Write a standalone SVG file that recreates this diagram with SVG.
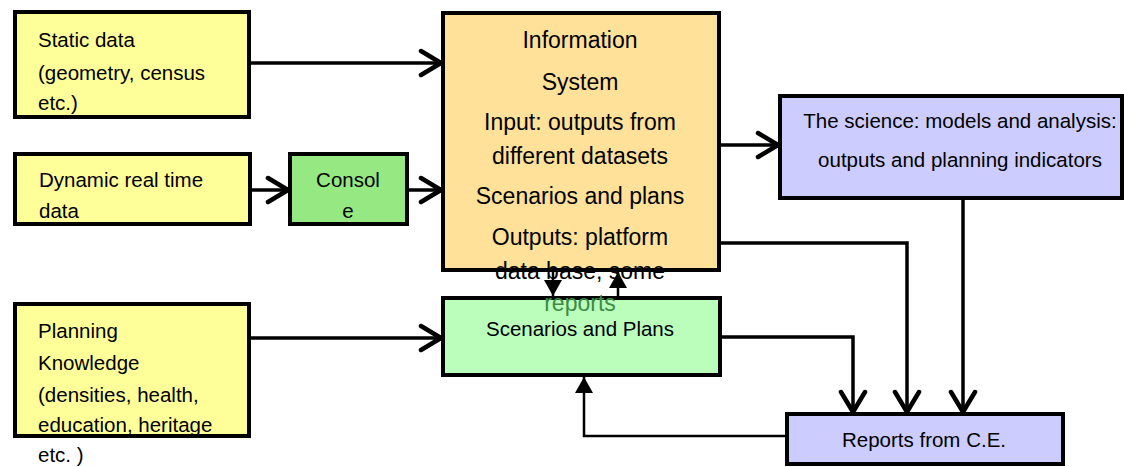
<svg xmlns="http://www.w3.org/2000/svg" width="1124" height="467" viewBox="0 0 1124 467">
  <defs>
    <style>
      .box { stroke: #000; stroke-width: 4; }
      .yellow { fill: #FFFF99; }
      .orange { fill: #FFE199; }
      .lime { fill: #96E882; }
      .mint { fill: #BBFDBB; }
      .lilac { fill: #CCCCFF; }
      text { font-family: "Liberation Sans", Arial, sans-serif; font-size: 20.5px; fill: #000; }
      .big { font-size: 23px; }
      .c { text-anchor: middle; }
      .green { fill: #3C8C46; }
      .wire { fill: none; stroke: #000; stroke-width: 3.5; }
      .thin { fill: none; stroke: #000; stroke-width: 2.5; }
    </style>
    <marker id="open" markerUnits="userSpaceOnUse" viewBox="0 0 26 30" refX="23" refY="15" markerWidth="26" markerHeight="30" orient="auto">
      <path d="M3,3 L23,15 L3,27" fill="none" stroke="#000" stroke-width="4.5" stroke-linecap="round" stroke-linejoin="round"/>
    </marker>
    <marker id="solid" markerUnits="userSpaceOnUse" viewBox="0 0 16 18" refX="16" refY="9" markerWidth="16" markerHeight="18" orient="auto">
      <path d="M0,0 L16,9 L0,18 Z" fill="#000"/>
    </marker>
  </defs>

  <g id="nodes">
    <g id="static-data">
      <rect class="box yellow" x="15" y="12" width="234" height="105"/>
      <text x="38" y="47">Static data</text>
      <text x="38" y="80">(geometry, census</text>
      <text x="38" y="110">etc.)</text>
    </g>
    <g id="dynamic-data">
      <rect class="box yellow" x="15" y="154" width="235" height="70"/>
      <text x="39" y="187">Dynamic real time</text>
      <text x="39" y="218">data</text>
    </g>
    <g id="console">
      <rect class="box lime" x="290" y="154" width="117" height="70"/>
      <text class="c" x="348" y="187">Consol</text>
      <text class="c" x="348" y="218">e</text>
    </g>
    <g id="planning-knowledge">
      <rect class="box yellow" x="15" y="304" width="234" height="132"/>
      <text x="38" y="338">Planning</text>
      <text x="38" y="370">Knowledge</text>
      <text x="38" y="402">(densities, health,</text>
      <text x="38" y="432">education, heritage</text>
      <text x="38" y="462">etc. )</text>
    </g>
    <g id="scenarios-plans">
      <rect class="box mint" x="443" y="298" width="277" height="77"/>
      <text class="c" x="580" y="336">Scenarios and Plans</text>
    </g>
    <g id="information-system">
      <rect class="box orange" x="443" y="13" width="276" height="257"/>
      <text class="c big" x="580" y="48">Information</text>
      <text class="c big" x="580" y="90">System</text>
      <text class="c big" x="580" y="130">Input: outputs from</text>
      <text class="c big" x="580" y="164">different datasets</text>
      <text class="c big" x="580" y="204">Scenarios and plans</text>
      <text class="c big" x="580" y="245">Outputs: platform</text>
      <text class="c big" x="580" y="279">data base, some</text>
      <text class="c big green" x="580" y="311">reports</text>
    </g>
    <g id="science">
      <rect class="box lilac" x="780" y="96" width="342" height="102"/>
      <text class="c" x="960" y="128">The science: models and analysis:</text>
      <text class="c" x="960" y="167">outputs and planning indicators</text>
    </g>
    <g id="reports-ce">
      <rect class="box lilac" x="787" y="414" width="276" height="50"/>
      <text class="c" x="924" y="447">Reports from C.E.</text>
    </g>
  </g>

  <g id="connectors">
    <line class="wire" x1="251" y1="63" x2="441" y2="63" marker-end="url(#open)"/>
    <line class="wire" x1="252" y1="190" x2="288" y2="190" marker-end="url(#open)"/>
    <line class="wire" x1="409" y1="190" x2="441" y2="190" marker-end="url(#open)"/>
    <line class="wire" x1="251" y1="338" x2="441" y2="338" marker-end="url(#open)"/>
    <line class="wire" x1="721" y1="145" x2="778" y2="145" marker-end="url(#open)"/>
    <line class="thin" x1="553" y1="272" x2="553" y2="296" marker-end="url(#solid)"/>
    <line class="thin" x1="618" y1="296" x2="618" y2="272" marker-end="url(#solid)"/>
    <polyline class="wire" points="722,337 853,337 853,412" marker-end="url(#open)"/>
    <polyline class="wire" points="721,243 907,243 907,412" marker-end="url(#open)"/>
    <line class="wire" x1="963" y1="200" x2="963" y2="412" marker-end="url(#open)"/>
    <polyline class="thin" points="785,436 584,436 584,377" marker-end="url(#solid)"/>
  </g>
</svg>
